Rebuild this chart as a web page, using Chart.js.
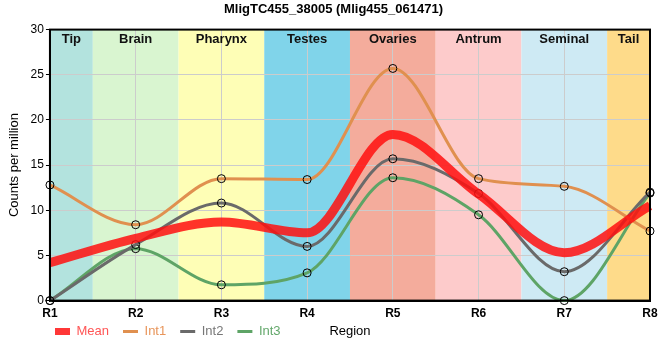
<!DOCTYPE html>
<html>
<head>
<meta charset="utf-8">
<script src="https://cdn.jsdelivr.net/npm/chart.js@4/dist/chart.umd.min.js"></script>
<style>
html,body{margin:0;padding:0;background:#fff;}
#wrap{width:660px;height:360px;}
</style>
</head>
<body>
<div id="wrap"><canvas id="c" width="660" height="360"></canvas></div>
<script>
const regions = ['R1','R2','R3','R4','R5','R6','R7','R8'];
const bandNames = ['Tip','Brain','Pharynx','Testes','Ovaries','Antrum','Seminal','Tail'];
const bandColors = ['#b3e3de','#d9f5d0','#fefeb6','#80d4ea','#f4ac9c','#fdcbcb','#ceeaf4','#fedb8a'];
const meanVals = [4.2, 6.9, 8.7, 7.5, 18.4, 11.8, 5.3, 10.5];
const int1 = [12.8, 8.4, 13.5, 13.4, 25.7, 13.5, 12.65, 7.7];
const int2 = [0, 6.2, 10.8, 6.0, 15.7, 11.85, 3.2, 12.0];
const int3 = [0, 5.75, 1.75, 3.07, 13.6, 9.5, 0, 11.9];
const yTicks = [0, 5, 10, 15, 20, 25, 30];

const FONT = "'Liberation Sans', Arial, sans-serif";

const bandPlugin = {
  id: 'bands',
  afterLayout(chart) {
    const lg = chart.legend;
    if (lg) { lg.left = 41; lg.top = 311; }
  },
  beforeDraw(chart) {
    const {ctx, chartArea: a, scales: {x}} = chart;
    ctx.save();
    bandNames.forEach((name, i) => {
      let l = x.getPixelForValue(i - 0.5), r = x.getPixelForValue(i + 0.5);
      l = Math.max(l, a.left); r = Math.min(r, a.right);
      ctx.fillStyle = bandColors[i];
      ctx.fillRect(l, a.top, r - l, a.bottom - a.top);
    });
    ctx.restore();
  },
  afterDatasetsDraw(chart) {
    const {ctx, chartArea: a, scales: {x}} = chart;
    ctx.save();
    ctx.font = "bold 13px " + FONT;
    ctx.fillStyle = '#111';
    ctx.textAlign = 'center';
    ctx.textBaseline = 'middle';
    bandNames.forEach((name, i) => {
      let l = Math.max(x.getPixelForValue(i - 0.5), a.left);
      let r = Math.min(x.getPixelForValue(i + 0.5), a.right);
      ctx.fillText(name, (l + r) / 2, a.top + 10);
    });
    ctx.strokeStyle = '#000';
    ctx.lineWidth = 2;
    ctx.strokeRect(a.left, a.top, a.right - a.left, a.bottom - a.top);
    ctx.restore();
  },
  afterDraw(chart) {
    const {ctx, chartArea: a} = chart;
    ctx.save();
    ctx.font = "13px " + FONT;
    ctx.fillStyle = '#000';
    ctx.textAlign = 'center';
    ctx.textBaseline = 'middle';
    ctx.fillText('Region', (a.left + a.right) / 2, 331);
    ctx.restore();
  }
};

const meanBox = document.createElement('canvas');
meanBox.width = 15; meanBox.height = 7;
(function(){ const c = meanBox.getContext('2d'); c.fillStyle = 'rgba(255,20,20,0.85)'; c.fillRect(0,0,15,7); })();

const legendText = ['#ff5555', '#e8955a', '#777777', '#64a86c'];

new Chart(document.getElementById('c'), {
  type: 'line',
  data: {
    labels: regions,
    datasets: [
      {label: 'Mean', data: meanVals, borderColor: 'rgba(255,15,15,0.85)', backgroundColor: 'rgba(255,15,15,0.85)',
       borderWidth: 9, pointRadius: 0, cubicInterpolationMode: 'monotone', fill: false},
      {label: 'Int1', data: int1, borderColor: '#e0904f', backgroundColor: '#e0904f', borderWidth: 3,
       pointRadius: 4, pointBackgroundColor: 'rgba(0,0,0,0)', pointBorderColor: '#000', pointBorderWidth: 1,
       cubicInterpolationMode: 'monotone', fill: false},
      {label: 'Int2', data: int2, borderColor: '#6a6a6a', backgroundColor: '#6a6a6a', borderWidth: 3,
       pointRadius: 4, pointBackgroundColor: 'rgba(0,0,0,0)', pointBorderColor: '#000', pointBorderWidth: 1,
       cubicInterpolationMode: 'monotone', fill: false},
      {label: 'Int3', data: int3, borderColor: '#5ea466', backgroundColor: '#5ea466', borderWidth: 3,
       pointRadius: 4, pointBackgroundColor: 'rgba(0,0,0,0)', pointBorderColor: '#000', pointBorderWidth: 1,
       cubicInterpolationMode: 'monotone', fill: false}
    ]
  },
  options: {
    responsive: false,
    animation: false,
    clip: false,
    layout: {padding: {left: 7, right: 0, top: 0, bottom: -4}},
    plugins: {
      title: {display: true, text: 'MligTC455_38005 (Mlig455_061471)', color: '#000',
              font: {family: FONT, size: 13, weight: 'bold'}, padding: {top: 2, bottom: 12}},
      tooltip: {enabled: false},
      legend: {
        position: 'bottom', align: 'start',
        labels: {
          usePointStyle: true, pointStyleWidth: 15, boxHeight: 7, padding: 14,
          font: {family: FONT, size: 13},
          generateLabels(chart) {
            return chart.data.datasets.map((ds, i) => ({
              text: ds.label,
              fillStyle: ds.borderColor,
              strokeStyle: ds.borderColor,
              lineWidth: 3,
              pointStyle: i === 0 ? meanBox : 'line',
              fontColor: legendText[i],
              hidden: false,
              datasetIndex: i
            }));
          }
        }
      }
    },
    scales: {
      x: {
        offset: false,
        afterFit(s) { s.paddingRight = 10; },
        grid: {color: '#cccccc', lineWidth: 1, drawTicks: false},
        border: {display: true, color: '#000', width: 2},
        ticks: {color: '#000', font: {family: FONT, size: 12, weight: 'bold'}, padding: 6, maxRotation: 0},
        title: {display: false}
      },
      y: {
        min: 0, max: 30,
        afterBuildTicks(s) { s.ticks = yTicks.map(v => ({value: v})); },
        grid: {color: '#cccccc', lineWidth: 1, drawTicks: true, tickLength: 4, tickColor: '#000'},
        border: {display: true, color: '#000', width: 2},
        ticks: {color: '#000', font: {family: FONT, size: 12}, padding: 2},
        title: {display: true, text: 'Counts per million', color: '#000', font: {family: FONT, size: 13}, padding: {top: 0, bottom: 6}}
      }
    }
  },
  plugins: [bandPlugin]
});
</script>
</body>
</html>
